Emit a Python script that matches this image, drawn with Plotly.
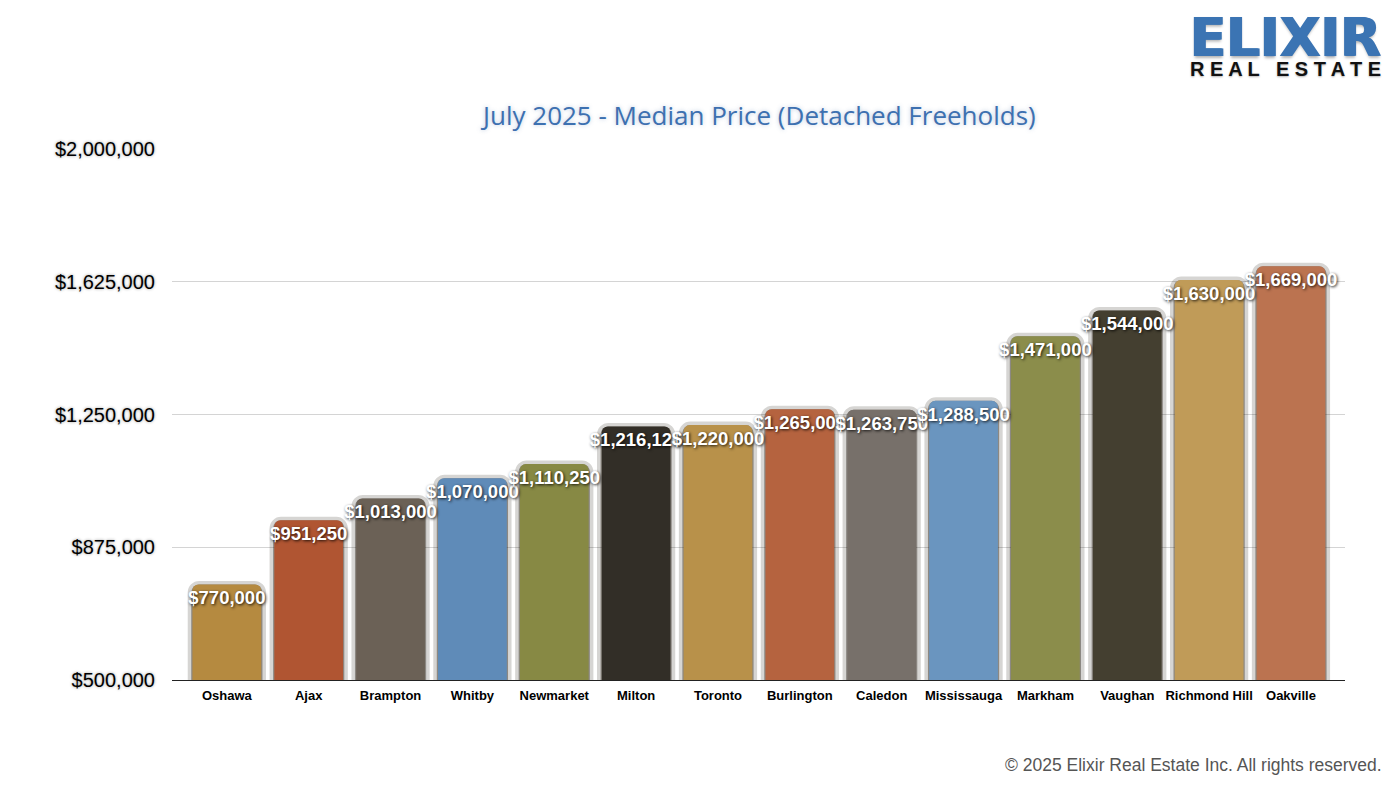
import plotly.graph_objects as go

cities = ["Oshawa", "Ajax", "Brampton", "Whitby", "Newmarket", "Milton", "Toronto",
          "Burlington", "Caledon", "Mississauga", "Markham", "Vaughan", "Richmond Hill", "Oakville"]
prices = [770000, 951250, 1013000, 1070000, 1110250, 1216126, 1220000,
          1265000, 1263750, 1288500, 1471000, 1544000, 1630000, 1669000]
colors = ["#b58a40", "#b05532", "#6b6156", "#5f8bb8", "#878944", "#322e27", "#b8914a",
          "#b5633f", "#77706a", "#6a95bf", "#8b8d4b", "#443f30", "#c09b58", "#bb7350"]
tick_vals = [500000, 875000, 1250000, 1625000, 2000000]
tick_text = ["$500,000", "$875,000", "$1,250,000", "$1,625,000", "$2,000,000"]
labels = ["${:,.0f}".format(v) for v in prices]

x = list(range(len(cities)))

# page offset (browser body margin)
OFF = 8
W, H = 1400, 788
l, r, t, b = 172 - OFF, 1400 - 1345 + OFF, 149 - OFF, 788 - 680 + OFF
pw, ph = W - l - r, H - t - b


def px(xp):
    return (xp - OFF - l) / pw


def py(yp):
    return (H - b - (yp - OFF)) / ph


fig = go.Figure()
# soft shadow behind bars
fig.add_trace(go.Bar(
    x=x, y=prices, width=0.87,
    marker=dict(color="rgba(30,20,10,0.40)", line=dict(color="rgba(30,20,10,0.18)", width=7),
                cornerradius=8),
    hoverinfo="skip", showlegend=False,
))
fig.add_trace(go.Bar(
    x=x, y=prices, width=0.84,
    marker=dict(color=colors, line=dict(width=0), cornerradius=6),
    showlegend=False,
))
# transparent bars carrying the value labels (drawn above all coloured bars)
fig.add_trace(go.Bar(
    x=x, y=prices, width=0.84,
    marker=dict(color="rgba(0,0,0,0)", line=dict(width=0)),
    text=labels, textposition="inside", insidetextanchor="end",
    constraintext="none", textangle=0, cliponaxis=False,
    textfont=dict(family="Liberation Sans, Arial", size=18.5, color="white",
                  weight="bold", shadow="1px 1px 3px rgba(0,0,0,0.85)"),
    showlegend=False, hoverinfo="skip",
))

fig.update_layout(
    width=W, height=H,
    paper_bgcolor="white", plot_bgcolor="white",
    margin=dict(l=l, r=r, t=t, b=b),
    barmode="overlay",
    xaxis=dict(
        range=[-0.67, 13.66], tickmode="array", tickvals=x, ticktext=cities,
        tickfont=dict(family="Liberation Sans, Arial", size=13, color="black", weight="bold"),
        showline=True, linecolor="#222", linewidth=1, showgrid=False, ticks="",
        zeroline=False, ticklabelstandoff=3,
    ),
    yaxis=dict(
        range=[500000, 2000000], tickmode="array", tickvals=tick_vals, ticktext=tick_text,
        tickfont=dict(family="Liberation Sans, Arial", size=20, color="black",
                      shadow="0px 0px 3px #999"),
        showgrid=True, gridcolor="#d4d4d4", gridwidth=1, zeroline=False, ticks="",
        ticklabelstandoff=16,
    ),
    annotations=[
        dict(text="July 2025 - Median Price (Detached Freeholds)", x=px(758), y=py(115),
             xref="paper", yref="paper", xanchor="center", yanchor="middle", showarrow=False,
             font=dict(family="Open Sans", size=26, color="#3d70b0",
                       shadow="0px 0px 4px rgba(60,100,160,0.35)")),
        dict(text="<b>ELIXIR</b>", x=px(1383), y=py(37), xref="paper", yref="paper",
             xanchor="right", yanchor="middle", showarrow=False,
             font=dict(family="DejaVu Sans", size=53, color="#3b74b3",
                       shadow="1px 0px 0px #3b74b3, -1px 0px 0px #3b74b3, 0px 2px 3px rgba(0,0,0,0.3)")),
        dict(text="<b>R E A L   E S T A T E</b>", x=px(1383), y=py(69), xref="paper", yref="paper",
             xanchor="right", yanchor="middle", showarrow=False,
             font=dict(family="Liberation Sans", size=20, color="#111",
                       shadow="0px 1px 2px rgba(0,0,0,0.3)")),
        dict(text="© 2025 Elixir Real Estate Inc. All rights reserved.", x=px(1384), y=py(765),
             xref="paper", yref="paper", xanchor="right", yanchor="middle", showarrow=False,
             font=dict(family="Liberation Sans, Arial", size=17.5, color="#555")),
    ],
)

fig.write_html("out.html")
